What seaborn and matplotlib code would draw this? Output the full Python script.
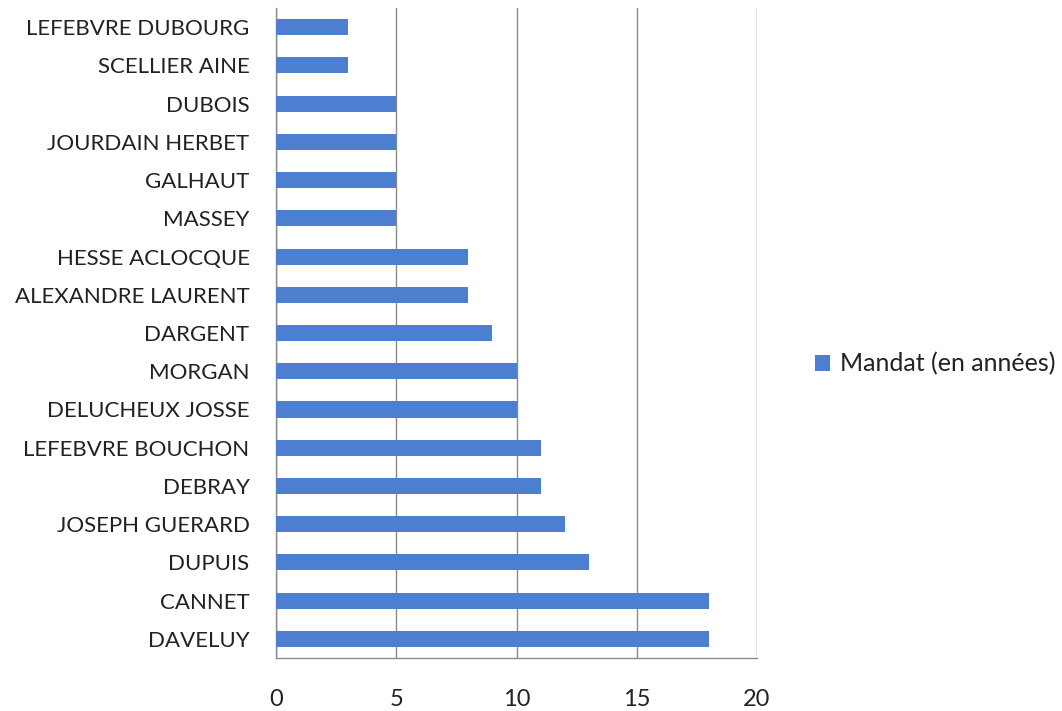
import numpy as np
import pandas as pd
import matplotlib
matplotlib.use("Agg")
import matplotlib.pyplot as plt
import seaborn as sns

# Mayors and length of their term (years), listed top to bottom
names = [
    "LEFEBVRE DUBOURG", "SCELLIER AINE", "DUBOIS", "JOURDAIN HERBET",
    "GALHAUT", "MASSEY", "HESSE ACLOCQUE", "ALEXANDRE LAURENT",
    "DARGENT", "MORGAN", "DELUCHEUX JOSSE", "LEFEBVRE BOUCHON",
    "DEBRAY", "JOSEPH GUERARD", "DUPUIS", "CANNET", "DAVELUY",
]
years = [3, 3, 5, 5, 5, 5, 8, 8, 9, 10, 10, 11, 11, 12, 13, 18, 18]
x_ticks = [0, 5, 10, 15, 20]
series_label = "Mandat (en années)"

df = pd.DataFrame({"nom": names, "annees": years})

sns.set_style("white")
plt.rcParams["font.family"] = ["Lato", "DejaVu Sans"]

bar_color = "#4C7FCF"
axis_gray = "#8A8A8A"
text_color = "#222222"

fig = plt.figure(figsize=(10.62, 7.11), dpi=100)
ax = fig.add_axes([276 / 1062, 1 - 658 / 711, (757 - 276) / 1062, (658 - 8) / 711])

sns.barplot(data=df, x="annees", y="nom", orient="h", color=bar_color,
            width=0.42, saturation=1, linewidth=0, label=series_label,
            ax=ax, zorder=3)

ax.set_xlim(0, 20)
ax.set_xticks(x_ticks)
ax.set_ylim(len(names) - 0.5, -0.5)
ax.set_xlabel("")
ax.set_ylabel("")

# vertical gridlines
ax.grid(axis="x", color=axis_gray, linewidth=1.0, zorder=0)
ax.grid(axis="y", visible=False)
ax.set_axisbelow(True)

for side in ["top", "right"]:
    ax.spines[side].set_visible(False)
for side in ["left", "bottom"]:
    ax.spines[side].set_color(axis_gray)
    ax.spines[side].set_linewidth(1.0)

# category boundary ticks on the left
ax.set_yticks(np.arange(-0.5, len(names)), minor=True)
ax.tick_params(axis="y", which="major", length=0, pad=19, labelsize=16,
               labelcolor=text_color)
ax.tick_params(axis="y", which="minor", length=5, width=1, color=axis_gray,
               direction="out")
ax.tick_params(axis="x", which="major", length=7, width=1, color=axis_gray,
               direction="out", pad=15, labelsize=17, labelcolor=text_color)

handles, labels = ax.get_legend_handles_labels()
if ax.get_legend() is not None:
    ax.get_legend().remove()
fig.legend(handles, labels, loc="center left",
           bbox_to_anchor=(815 / 1062, 1 - 364 / 711),
           frameon=False, fontsize=18, handlelength=0.6, handleheight=0.6,
           handletextpad=0.4, borderpad=0, borderaxespad=0,
           labelcolor=text_color)

fig.savefig("out.png", dpi=100)
